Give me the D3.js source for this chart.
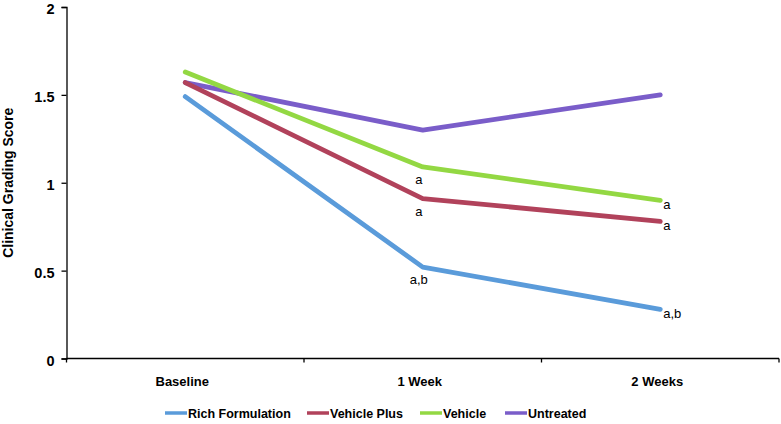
<!DOCTYPE html>
<html>
<head>
<meta charset="utf-8">
<script src="https://cdn.jsdelivr.net/npm/d3@7"></script>
<style>
html,body{margin:0;padding:0;background:#fff;}
svg{display:block;font-family:"Liberation Sans",Arial,sans-serif;}
</style>
</head>
<body>
<svg id="chart" width="781" height="424"></svg>
<script>
const categories = ["Baseline", "1 Week", "2 Weeks"];
const seriesNames = ["Rich Formulation", "Vehicle Plus", "Vehicle", "Untreated"];
const richFormulation = [1.49, 0.52, 0.28];
const vehiclePlus = [1.57, 0.91, 0.78];
const vehicle = [1.63, 1.09, 0.90];
const untreated = [1.57, 1.30, 1.50];
const richLabels = ["", "a,b", "a,b"];
const vehiclePlusLabels = ["", "a", "a"];
const vehicleLabels = ["", "a", "a"];
const untreatedLabels = ["", "", ""];
const yTicks = [0, 0.5, 1, 1.5, 2];
const colors = ["#5A9BDA", "#B1425B", "#93D843", "#7A5DC9"];

(function () {
const series = [
  {name: seriesNames[0], values: richFormulation, labels: richLabels, color: colors[0]},
  {name: seriesNames[1], values: vehiclePlus, labels: vehiclePlusLabels, color: colors[1]},
  {name: seriesNames[2], values: vehicle, labels: vehicleLabels, color: colors[2]},
  {name: seriesNames[3], values: untreated, labels: untreatedLabels, color: colors[3]}
];

const svg = d3.select("#chart");
const mLeft = 66.5, mRight = 779, mTop = 7, mBottom = 358.5;

const x = d3.scaleBand().domain(categories).range([mLeft, mRight]).paddingInner(0).paddingOuter(0);
const y = d3.scaleLinear().domain([0, 2]).range([mBottom, mTop]);

// y axis
const yAxis = svg.append("g").attr("transform", `translate(${mLeft},0)`)
  .call(d3.axisLeft(y).tickValues(yTicks).tickSize(5).tickFormat(d => d3.format("")(d)));
yAxis.select(".domain").attr("stroke", "#000").attr("stroke-width", 1.3);
yAxis.selectAll(".tick line").attr("stroke", "#000").attr("stroke-width", 1.3);
yAxis.selectAll(".tick text").attr("font-size", 14.5).attr("font-weight", "bold").attr("fill", "#000")
  .attr("x", -12).attr("dy", "0.45em")
  .style("font-family", "'Liberation Sans',Arial,sans-serif");

// x axis
const xAxis = svg.append("g").attr("transform", `translate(0,${mBottom})`);
xAxis.append("line").attr("x1", mLeft).attr("x2", mRight).attr("y1", 0).attr("y2", 0)
  .attr("stroke", "#000").attr("stroke-width", 1.3);
const bounds = categories.map(c => x(c)).concat([x(categories[categories.length-1]) + x.bandwidth()]);
xAxis.selectAll("line.tk").data(bounds).enter().append("line").attr("class","tk")
  .attr("x1", d => d).attr("x2", d => d).attr("y1", 0).attr("y2", 4)
  .attr("stroke", "#000").attr("stroke-width", 1.3);
xAxis.selectAll("text").data(categories).enter().append("text")
  .attr("x", d => x(d) + x.bandwidth()/2 - 3).attr("y", 27.5)
  .attr("text-anchor", "middle").attr("font-size", 13).attr("font-weight", "bold").text(d => d);

// y title
svg.append("text").attr("transform", `translate(13,${(mTop+mBottom)/2}) rotate(-90)`)
  .attr("text-anchor", "middle").attr("font-size", 14).attr("font-weight", "bold").text("Clinical Grading Score");

const cx = c => x(c) + x.bandwidth()/2;
const line = d3.line().x((d,i) => cx(categories[i])).y(d => y(d));

const order = [3, 2, 1, 0];
svg.append("g").selectAll("path").data(order.map(i => series[i])).enter().append("path")
  .attr("d", d => line(d.values)).attr("fill", "none").attr("stroke", d => d.color)
  .attr("stroke-width", 4.8).attr("stroke-linecap", "round").attr("stroke-linejoin", "round");

// annotations
const ann = svg.append("g").attr("font-size", 13).attr("fill", "#000");
series.forEach(s => {
  s.labels.forEach((lab, i) => {
    if (!lab) return;
    if (i === 1) {
      ann.append("text").attr("x", cx(categories[i]) - 4).attr("y", y(s.values[i]) + 17)
        .attr("text-anchor", "middle").text(lab);
    } else {
      ann.append("text").attr("x", cx(categories[i]) + 3).attr("y", y(s.values[i]) + 9)
        .attr("text-anchor", "start").text(lab);
    }
  });
});

// legend
const legendX = [165, 307, 420, 505];
const lg = svg.append("g");
series.forEach((s, i) => {
  const g = lg.append("g").attr("transform", `translate(${legendX[i]},413)`);
  g.append("line").attr("x1", 0).attr("x2", 22).attr("y1", 0).attr("y2", 0)
    .attr("stroke", s.color).attr("stroke-width", 3.5);
  g.append("text").attr("x", 23).attr("y", 5).attr("font-size", 12.5).attr("font-weight", "bold").text(s.name);
});
})();
</script>
</body>
</html>
